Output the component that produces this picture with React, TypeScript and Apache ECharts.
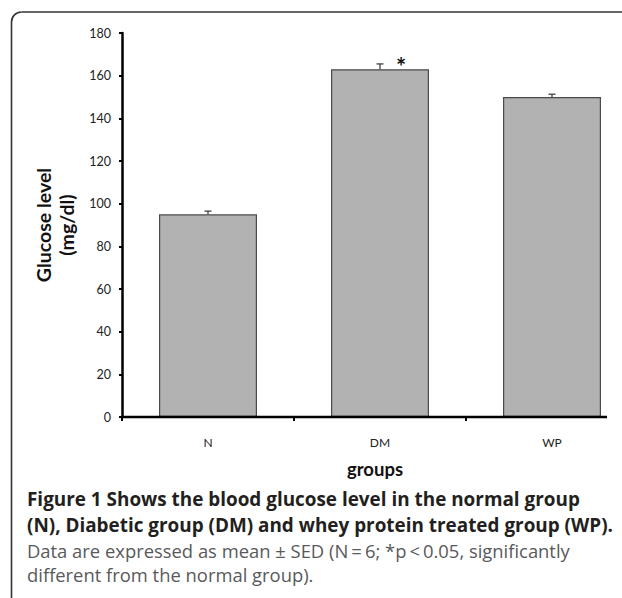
import React, { useEffect, useRef } from "react";
import * as echarts from "echarts";

const categories = ["N", "DM", "WP"];
const means = [95, 163, 150];
const errors = [1.5, 2.5, 1.3];
const significance = ["", "*", ""];
const yMin = 0;
const yMax = 180;
const yInterval = 20;

const captionBold1 = "Figure 1 Shows the blood glucose level in the normal group";
const captionBold2 = "(N), Diabetic group (DM) and whey protein treated group (WP).";
const captionNormal1 = "Data are expressed as mean \u00b1 SED (N\u2009=\u20096; *p\u2009<\u20090.05, significantly";
const captionNormal2 = "different from the normal group).";

export default function App() {
  const ref = useRef<HTMLDivElement>(null);
  useEffect(() => {
    if (!ref.current) return;
    const chart = echarts.init(ref.current, null, { renderer: "svg" });
    const chartFont = "Lato";
    const capFont = "'Open Sans'";
    const frame = { stroke: "#333", lineWidth: 1.6 };
    const fx = 11.5;
    const fy = 12;
    const fr = 10;
    const option: any = {
      animation: false,
      backgroundColor: "#ffffff",
      grid: { left: 122, top: 33, bottom: 181, width: 516, outerBoundsMode: "none", containLabel: false },
      xAxis: {
        type: "category",
        data: categories,
        name: "groups",
        nameLocation: "middle",
        nameGap: 42,
        nameTextStyle: { fontFamily: chartFont, fontWeight: "bold", fontSize: 18.5, color: "#111", padding: [0, 10, 0, 0] },
        axisLine: { show: false },
        axisTick: { show: true, alignWithLabel: false, length: 4, lineStyle: { color: "#000", width: 2 } },
        axisLabel: { margin: 19, fontFamily: chartFont, fontSize: 12, color: "#222" },
      },
      yAxis: {
        type: "value",
        min: yMin,
        max: yMax,
        interval: yInterval,
        name: "Glucose level\n(mg/dl)",
        nameLocation: "middle",
        nameRotate: 90,
        nameGap: 41,
        nameTextStyle: { fontFamily: chartFont, fontWeight: "bold", fontSize: 19.5, color: "#111", lineHeight: 23 },
        splitLine: { show: false },
        axisLine: { show: true, lineStyle: { color: "#000", width: 2.5 } },
        axisTick: { show: true, length: 3, lineStyle: { color: "#000", width: 2 } },
        axisLabel: { margin: 11, fontFamily: chartFont, fontSize: 12.5, color: "#222" },
      },
      series: [
        {
          type: "bar",
          data: means,
          barWidth: 98,
          itemStyle: { color: "#b2b2b2", borderColor: "#4a4a4a", borderWidth: 1.2 },
          z: 2,
        },
        {
          type: "custom",
          z: 3,
          data: categories.map((c, i) => [i, means[i], errors[i]]),
          renderItem: (params: any, api: any) => {
            const i = api.value(0);
            const m = api.value(1);
            const e = api.value(2);
            const base = api.coord([i, m]);
            const top = api.coord([i, m + e]);
            const children: any[] = [
              { type: "line", shape: { x1: base[0], y1: base[1], x2: top[0], y2: top[1] }, style: { stroke: "#333", lineWidth: 1.2 } },
              { type: "line", shape: { x1: top[0] - 3.5, y1: top[1], x2: top[0] + 3.5, y2: top[1] }, style: { stroke: "#333", lineWidth: 1.2 } },
            ];
            const s = significance[params.dataIndex];
            if (s) {
              children.push({
                type: "text",
                style: { text: s, x: base[0] + 21, y: base[1] - 3, align: "center", verticalAlign: "middle", fontFamily: chartFont, fontWeight: "bold", fontSize: 24, fill: "#111" },
              });
            }
            return { type: "group", children };
          },
        },
      ],
      graphic: [
        { type: "line", shape: { x1: fx, y1: fy + fr, x2: fx, y2: 700 }, style: { ...frame, fill: "none" }, z: 10 },
        { type: "line", shape: { x1: fx + fr, y1: fy, x2: 700, y2: fy }, style: { ...frame, fill: "none" }, z: 10 },
        { type: "arc", shape: { cx: fx + fr, cy: fy + fr, r: fr, startAngle: Math.PI, endAngle: Math.PI * 1.5, clockwise: true }, style: { ...frame, fill: "none" }, z: 10 },
        { type: "text", style: { text: captionBold1, x: 27, y: 508, verticalAlign: "bottom", fontFamily: capFont, fontWeight: "bold", fontSize: 18.9, fill: "#231f20" } },
        { type: "text", style: { text: captionBold2, x: 27, y: 534, verticalAlign: "bottom", fontFamily: capFont, fontWeight: "bold", fontSize: 18.9, fill: "#231f20" } },
        { type: "text", style: { text: captionNormal1, x: 27, y: 559, verticalAlign: "bottom", fontFamily: capFont, fontSize: 18.4, fill: "#58595b" } },
        { type: "text", style: { text: captionNormal2, x: 27, y: 583, verticalAlign: "bottom", fontFamily: capFont, fontSize: 18.4, fill: "#58595b" } },
      ],
    };
    chart.setOption(option);
    const p0 = chart.convertToPixel({ gridIndex: 0 }, [0, 0]) as number[];
    const gridLeft = 122;
    chart.setOption({
      graphic: [
        ...option.graphic,
        { type: "line", shape: { x1: gridLeft - 1, y1: p0[1], x2: 607, y2: p0[1] }, style: { stroke: "#000", lineWidth: 2.5 }, z: 5 },
      ],
    });
    return () => chart.dispose();
  }, []);
  return <div ref={ref} style={{ position: "absolute", left: 0, top: 0, width: 622, height: 598 }} />;
}
